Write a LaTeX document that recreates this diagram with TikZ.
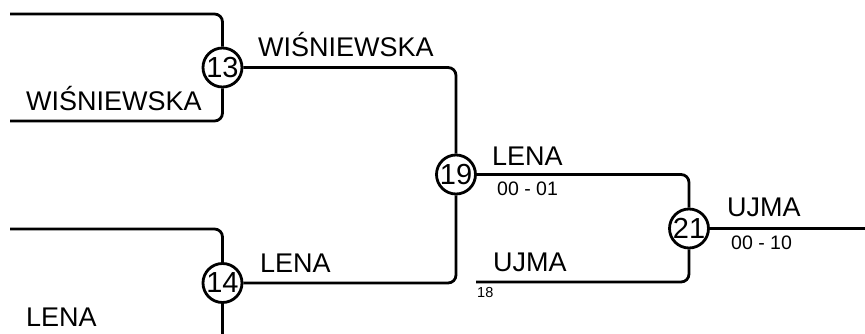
\documentclass[tikz,border=0pt]{standalone}
\usepackage{fontspec}
\setmainfont{Liberation Sans}
\tikzset{
  match/.style={circle,draw,line width=2.8pt,minimum size=39pt,inner sep=0pt,font=\fontsize{29}{30}\selectfont},
  player/.style={anchor=base west,inner sep=0pt,font=\fontsize{27}{30}\selectfont},
  score/.style={anchor=base west,inner sep=0pt,font=\fontsize{19.5}{21}\selectfont},
  seed/.style={anchor=base west,inner sep=0pt,font=\fontsize{14.5}{16}\selectfont},
  wire/.style={line width=2.8pt,rounded corners=8pt}
}
\begin{document}
\begin{tikzpicture}[x=1pt,y=-1pt]
\clip (0,0) rectangle (865,334);
% matches
\node[match] (m13) at (222.5,67.5) {13};
\node[match] (m14) at (222.5,283) {14};
\node[match] (m19) at (456,174.5) {19};
\node[match] (m21) at (689,228.5) {21};
% free ends
\coordinate (in13a) at (10,14);
\coordinate (in13b) at (10,121);
\coordinate (in14a) at (10,229);
\coordinate (in14b) at (10,342);
\coordinate (bye18) at (476,282);
\coordinate (out21) at (870,228.5);
% wires
\draw[wire] (in13a) -| (m13.north);
\draw[wire] (in13b) -| (m13.south);
\draw[wire] (in14a) -| (m14.north);
\draw[wire] (in14b) -| (m14.south);
\draw[wire] (m13.east) -| (m19.north);
\draw[wire] (m14.east) -| (m19.south);
\draw[wire] (m19.east) -| (m21.north);
\draw[wire] (bye18) -| (m21.south);
\draw[wire] (m21.east) -- (out21);
% players
\node[player] (p13a) at (26,111) {WIŚNIEWSKA};
\node[player] (p14a) at (26,326) {LENA};
\node[player] (p13) at (258,57) {WIŚNIEWSKA};
\node[player] (p14) at (260,272) {LENA};
\node[player] (p19) at (492,165) {LENA};
\node[score] (s19) at (497,196) {00 - 01};
\node[player] (p18) at (493,271) {UJMA};
\node[seed] (s18) at (477,297) {18};
\node[player] (p21) at (727,216) {UJMA};
\node[score] (s21) at (731,249) {00 - 10};
\end{tikzpicture}
\end{document}
